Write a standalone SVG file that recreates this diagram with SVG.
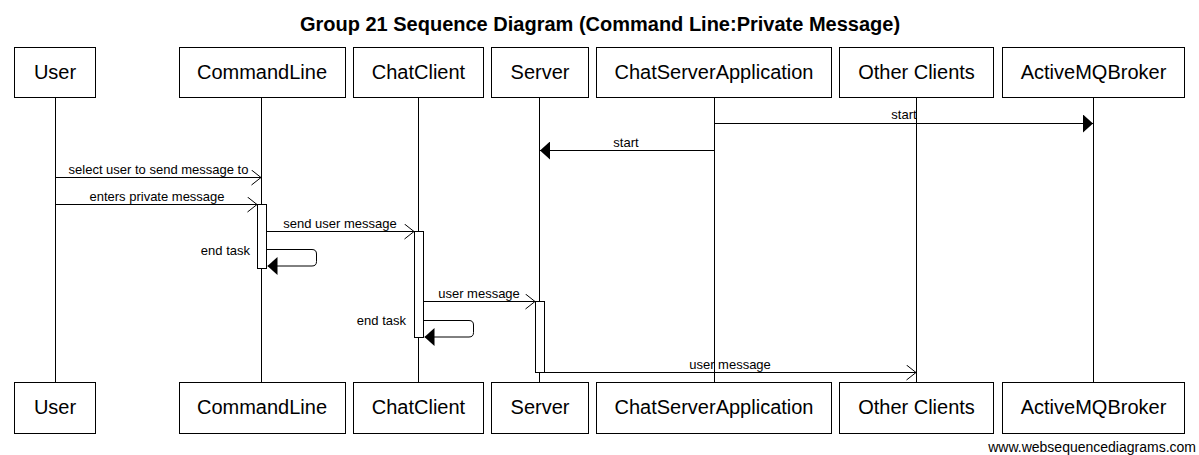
<svg xmlns="http://www.w3.org/2000/svg" width="1199" height="455" viewBox="0 0 1199 455">
<style>
  .box { fill: #ffffff; stroke: #000000; stroke-width: 1; }
  .pl { font-family: "Liberation Sans", Arial, sans-serif; font-size: 20px; fill: #000; text-anchor: middle; }
  .life { stroke: #000; stroke-width: 1; fill: none; }
  .msg { stroke: #000; stroke-width: 1; fill: none; }
  .act { fill: #ffffff; stroke: #000; stroke-width: 1; }
  .ml { font-family: "Liberation Sans", Arial, sans-serif; font-size: 13px; fill: #000; text-anchor: middle; }
  .mr { font-family: "Liberation Sans", Arial, sans-serif; font-size: 13px; fill: #000; text-anchor: end; }
  .title { font-family: "Liberation Sans", Arial, sans-serif; font-size: 20px; font-weight: bold; fill: #000; text-anchor: middle; }
  .wm { font-family: "Liberation Sans", Arial, sans-serif; font-size: 14px; fill: #000; text-anchor: end; }
</style>
<defs>
  <marker id="filled" viewBox="0 0 10 18" refX="10" refY="9" markerWidth="10" markerHeight="18" markerUnits="userSpaceOnUse" orient="auto">
    <path d="M0,0 L10,9 L0,18 Z" fill="#000"/>
  </marker>
  <marker id="open" viewBox="0 0 11 16" refX="10" refY="8" markerWidth="11" markerHeight="16" markerUnits="userSpaceOnUse" orient="auto">
    <path d="M0.5,0.5 L10,8 L0.5,15.5" fill="none" stroke="#000" stroke-width="1"/>
  </marker>
</defs>
<rect x="0" y="0" width="1199" height="455" fill="#ffffff"/>
<text class="title" x="600" y="31">Group 21 Sequence Diagram (Command Line:Private Message)</text>

<g id="lifelines">
  <line class="life" x1="55.5" y1="97" x2="55.5" y2="382"/>
  <line class="life" x1="261.5" y1="97" x2="261.5" y2="382"/>
  <line class="life" x1="418.5" y1="97" x2="418.5" y2="382"/>
  <line class="life" x1="539.5" y1="97" x2="539.5" y2="382"/>
  <line class="life" x1="714.5" y1="97" x2="714.5" y2="382"/>
  <line class="life" x1="916.5" y1="97" x2="916.5" y2="382"/>
  <line class="life" x1="1093.5" y1="97" x2="1093.5" y2="382"/>
</g>

<g id="node-user">
  <rect class="box" x="14.5" y="47.5" width="81" height="50"/>
  <text class="pl" x="55" y="79">User</text>
  <rect class="box" x="14.5" y="382.5" width="81" height="51"/>
  <text class="pl" x="55" y="414">User</text>
</g>
<g id="node-commandline">
  <rect class="box" x="179.5" y="47.5" width="166" height="50"/>
  <text class="pl" x="262" y="79">CommandLine</text>
  <rect class="box" x="179.5" y="382.5" width="166" height="51"/>
  <text class="pl" x="262" y="414">CommandLine</text>
</g>
<g id="node-chatclient">
  <rect class="box" x="353.5" y="47.5" width="130" height="50"/>
  <text class="pl" x="418.5" y="79">ChatClient</text>
  <rect class="box" x="353.5" y="382.5" width="130" height="51"/>
  <text class="pl" x="418.5" y="414">ChatClient</text>
</g>
<g id="node-server">
  <rect class="box" x="491.5" y="47.5" width="97" height="50"/>
  <text class="pl" x="540" y="79">Server</text>
  <rect class="box" x="491.5" y="382.5" width="97" height="51"/>
  <text class="pl" x="540" y="414">Server</text>
</g>
<g id="node-chatserverapplication">
  <rect class="box" x="596.5" y="47.5" width="235" height="50"/>
  <text class="pl" x="714" y="79">ChatServerApplication</text>
  <rect class="box" x="596.5" y="382.5" width="235" height="51"/>
  <text class="pl" x="714" y="414">ChatServerApplication</text>
</g>
<g id="node-otherclients">
  <rect class="box" x="839.5" y="47.5" width="154" height="50"/>
  <text class="pl" x="916.5" y="79">Other Clients</text>
  <rect class="box" x="839.5" y="382.5" width="154" height="51"/>
  <text class="pl" x="916.5" y="414">Other Clients</text>
</g>
<g id="node-activemqbroker">
  <rect class="box" x="1002.5" y="47.5" width="182" height="50"/>
  <text class="pl" x="1093.5" y="79">ActiveMQBroker</text>
  <rect class="box" x="1002.5" y="382.5" width="182" height="51"/>
  <text class="pl" x="1093.5" y="414">ActiveMQBroker</text>
</g>

<g id="connectors">
  <line class="msg" x1="714.5" y1="123.5" x2="1093" y2="123.5" marker-end="url(#filled)"/>
  <text class="ml" x="904" y="119">start</text>

  <line class="msg" x1="714.5" y1="150.5" x2="540" y2="150.5" marker-end="url(#filled)"/>
  <text class="ml" x="626" y="147">start</text>

  <line class="msg" x1="55.5" y1="177.5" x2="261" y2="177.5" marker-end="url(#open)"/>
  <text class="ml" x="158.5" y="174">select user to send message to</text>

  <line class="msg" x1="55.5" y1="204.5" x2="257" y2="204.5" marker-end="url(#open)"/>
  <text class="ml" x="157" y="201">enters private message</text>

  <line class="msg" x1="266.5" y1="231.5" x2="414" y2="231.5" marker-end="url(#open)"/>
  <text class="ml" x="340" y="228">send user message</text>

  <path class="msg" d="M266.5,249.5 H312 Q316.5,249.5 316.5,254 V261.5 Q316.5,266 312,266 H267.5" marker-end="url(#filled)"/>
  <text class="mr" x="250" y="255">end task</text>

  <line class="msg" x1="423.5" y1="301.5" x2="535" y2="301.5" marker-end="url(#open)"/>
  <text class="ml" x="479" y="298">user message</text>

  <path class="msg" d="M423.5,320.5 H469 Q473.5,320.5 473.5,325 V332.5 Q473.5,337 469,337 H424.5" marker-end="url(#filled)"/>
  <text class="mr" x="406" y="325">end task</text>

  <line class="msg" x1="544.5" y1="372.5" x2="916" y2="372.5" marker-end="url(#open)"/>
  <text class="ml" x="730" y="369">user message</text>
</g>

<g id="activations">
  <rect class="act" x="257.5" y="204.5" width="9" height="64"/>
  <rect class="act" x="414.5" y="231.5" width="9" height="106"/>
  <rect class="act" x="535.5" y="301.5" width="9" height="71"/>
</g>

<text class="wm" x="1196" y="452">www.websequencediagrams.com</text>
</svg>
